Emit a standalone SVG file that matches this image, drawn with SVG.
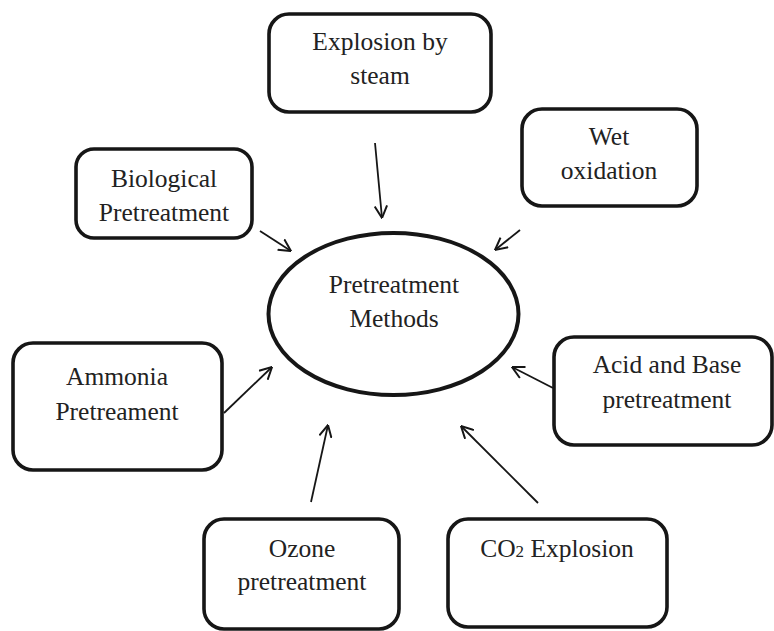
<svg xmlns="http://www.w3.org/2000/svg" width="774" height="631" viewBox="0 0 774 631">
  <style>
    .box { fill: #ffffff; stroke: #161616; stroke-width: 3.6; }
    .hub { fill: #ffffff; stroke: #161616; stroke-width: 4; }
    .lbl { font-family: "Liberation Serif", "Times New Roman", serif; font-size: 25.5px; fill: #222222; text-anchor: middle; }
    .link { stroke: #161616; stroke-width: 1.8; fill: none; marker-end: url(#open-head); }
  </style>
  <defs>
    <marker id="open-head" markerUnits="userSpaceOnUse" viewBox="0 0 13 14" refX="12.5" refY="7" markerWidth="13" markerHeight="14" orient="auto">
      <path d="M0.5,0.8 L12.5,7 L0.5,13.2" fill="none" stroke="#161616" stroke-width="2"/>
    </marker>
  </defs>

  <rect width="774" height="631" fill="#ffffff"/>

  <!-- connectors: each method points at the central ellipse -->
  <g id="connectors">
    <line class="link" x1="375" y1="143" x2="382" y2="218"/>
    <line class="link" x1="260" y1="231" x2="291" y2="251"/>
    <line class="link" x1="520" y1="230" x2="495" y2="250"/>
    <line class="link" x1="553" y1="388" x2="512" y2="367"/>
    <line class="link" x1="538" y1="503" x2="461" y2="426"/>
    <line class="link" x1="311" y1="502" x2="328" y2="425"/>
    <line class="link" x1="224" y1="413" x2="272" y2="367"/>
  </g>

  <g id="hub">
    <ellipse class="hub" cx="393.5" cy="314" rx="125" ry="81"/>
    <text class="lbl" x="394" y="293">Pretreatment</text>
    <text class="lbl" x="394" y="327">Methods</text>
  </g>

  <g id="steam">
    <rect class="box" x="269" y="14" width="222" height="98" rx="20"/>
    <text class="lbl" x="380" y="50">Explosion by</text>
    <text class="lbl" x="380" y="84">steam</text>
  </g>

  <g id="biological">
    <rect class="box" x="76" y="149" width="176" height="89" rx="18"/>
    <text class="lbl" x="164" y="187">Biological</text>
    <text class="lbl" x="164" y="221">Pretreatment</text>
  </g>

  <g id="wet">
    <rect class="box" x="522" y="109" width="175" height="97" rx="20"/>
    <text class="lbl" x="609" y="145">Wet</text>
    <text class="lbl" x="609" y="179">oxidation</text>
  </g>

  <g id="acid-base">
    <rect class="box" x="554" y="337" width="218" height="108" rx="20"/>
    <text class="lbl" x="667" y="373">Acid and Base</text>
    <text class="lbl" x="667" y="408">pretreatment</text>
  </g>

  <g id="ammonia">
    <rect class="box" x="13" y="343" width="209" height="127" rx="20"/>
    <text class="lbl" x="117" y="385">Ammonia</text>
    <text class="lbl" x="117" y="420">Pretreament</text>
  </g>

  <g id="ozone">
    <rect class="box" x="204" y="519" width="195" height="110" rx="20"/>
    <text class="lbl" x="302" y="557">Ozone</text>
    <text class="lbl" x="302" y="590">pretreatment</text>
  </g>

  <g id="co2">
    <rect class="box" x="448" y="519" width="219" height="108" rx="20"/>
    <text class="lbl" x="557" y="557">CO<tspan font-size="17">2</tspan> Explosion</text>
  </g>
</svg>
